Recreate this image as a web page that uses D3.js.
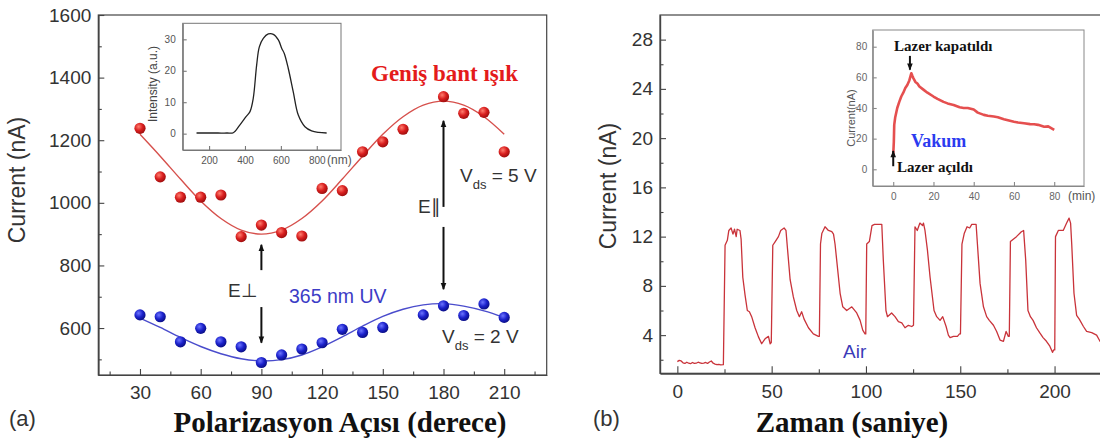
<!DOCTYPE html>
<html><head><meta charset="utf-8">
<script src="https://cdn.jsdelivr.net/npm/d3@7"></script>
<style>
html,body{margin:0;padding:0;background:#fff;}
svg{display:block;}
</style></head><body>
<svg id="chart" width="1100" height="443"></svg>
<script>
// ---------- Panel (a): photocurrent vs. polarization angle ----------
const fitAngles = [30,40,50,60,70,80,90,100,110,120,130,140,150,160,170,180,190,200,210];
const redAngles = [30,40,50,60,70,80,90,100,110,120,130,140,150,160,180,190,200,210];
const redCurrent = [1238,1083,1018,1018,1025,892,929,905,894,1046,1039,1163,1195,1235,1339,1286,1289,1163];
const blueAngles = [30,40,50,60,70,80,90,100,110,120,130,140,150,170,180,190,200,210];
const blueCurrent = [642,636,556,599,556,540,490,514,533,553,596,586,602,642,671,640,677,634];
const redFit = [1219,1149,1076,1006,950,913,900,913,950,1006,1076,1149,1219,1275,1312,1325,1312,1275,1219];
const blueFit = [632,602,570,541,518,502,495,499,514,540,572,606,637,660,674,678,670,655,634];
const angleTicks = [30,60,90,120,150,180,210];
const angleMinorTicks = [15,45,75,105,135,165,195,225];
const currentTicksA = [600,800,1000,1200,1400,1600];
const currentMinorTicksA = [500,700,900,1100,1300,1500];

// ---------- Inset (a): lamp spectrum ----------
const wavelength = [130,200,250,300,335,372,406,428,446,465,480,502,530,558,586,605,619,641,669,697,734,771,810,855];
const intensity = [0.2,0.2,0.2,0.2,0.3,2.8,5.4,7.0,11.2,21.8,27.6,30.3,31.7,31.6,29.8,27.1,25.5,20.8,13.3,5.9,2.2,0.9,0.4,0.2];
const wavelengthTicks = [200,400,600,800];
const intensityTicks = [0,10,20,30];

// ---------- Panel (b): on/off response in air ----------
const airTrace = [
  [0,1.85],[1,1.95],[2,1.9],[3,1.75],[4,1.7],[5,1.8],[6,1.72],[7,1.68],[8,1.78],[9,1.7],[10,1.72],
  [11,1.8],[12,1.75],[13,1.7],[14,1.72],[15,1.78],[16,1.7],[17,1.82],[18,1.9],[19,1.72],[20,1.65],
  [21,1.6],[22,1.62],[23,1.58],[24.4,1.6],
  [25.3,11.3],[26.5,11.7],[27.3,12.5],[28.5,12.7],[29.5,12.2],[30.3,12.6],[31.2,12.0],[31.7,12.6],[33.2,12.5],[33.8,11.8],
  [34.7,8.7],[35.9,7.25],[37.1,6.0],[38.2,5.9],[39.4,5.5],[41.2,4.6],[43,3.86],[44.7,3.3],[46.5,3.7],[48.3,3.9],[49.2,3.3],[49.8,3.4],
  [50.6,11.3],[51.9,11.6],[53.6,12.0],[54.8,12.5],[56.6,12.7],[57.6,12.5],[58.3,11.2],[59.8,8.5],[61.5,7.1],[63.3,6.0],
  [64.7,5.5],[65.9,5.9],[67.2,5.3],[69.5,4.6],[72.1,4.1],[74.8,3.9],[75.3,3.9],
  [75.9,11.4],[76.6,12.25],[78.3,12.8],[80.1,12.5],[81.9,12.4],[82.8,12.2],[83.6,11.4],[86.3,7.4],[87.7,6.3],[89.8,6.0],
  [92.5,6.3],[95.1,5.8],[96.9,5.2],[98.3,4.4],[99.5,4.1],[99.9,4.1],
  [100.4,11.4],[101.8,11.6],[103.2,12.9],[104.5,13.0],[106.5,13.0],[108.4,13.0],[109.2,10.1],[110.6,6.0],[111.4,5.5],
  [113.6,5.8],[115.4,5.5],[117.2,5.1],[119,5.0],[120.7,4.6],[122.5,4.8],[124.3,4.7],[125.2,4.8],
  [126,12.8],[127.2,12.5],[128.6,13.1],[130,12.9],[130.5,13.1],[131.3,12.5],[132.6,10.9],[134,8.7],[136.1,6.0],[137.5,5.5],
  [139.3,5.2],[140.7,5.5],[142.5,4.7],[143.7,4.0],[144.6,3.8],[146.4,3.9],[148.5,3.9],[149.6,4.1],[150.1,4.1],
  [150.9,11.4],[152.1,12.25],[153.6,12.8],[155,12.7],[156.1,13.0],[158.4,13.0],[159.1,11.4],[160.5,8.2],[162.3,6.3],[164,5.5],
  [165.4,5.2],[167.6,4.8],[169.3,4.3],[171.1,3.6],[172.9,3.5],[174.3,4.3],[175.5,3.9],[176,3.9],
  [176.6,11.6],[179.8,12.0],[182.4,12.4],[183.6,12.5],[184.7,10.1],[185.9,6.0],[187.2,5.5],[188.6,5.2],[190.4,4.6],
  [192.1,4.2],[193.9,3.8],[195.7,3.5],[197.5,3.1],[198.9,2.6],[199.5,2.8],[200.1,2.8],
  [200.5,12.0],[202,12.5],[204.6,12.5],[206.4,13.1],[207.7,13.5],[208.5,13.1],[209.1,11.4],[210.3,7.4],[211.7,5.6],
  [213.1,5.3],[215.3,4.7],[217,4.3],[219.7,4.2],[222.3,4.0],[224.1,3.5],[226,3.2]
];
const timeTicks = [0,50,100,150,200];
const timeMinorTicks = [25,75,125,175,225];
const currentTicksB = [4,8,12,16,20,24,28];
const currentMinorTicksB = [2,6,10,14,18,22,26];

// ---------- Inset (b): response in vacuum ----------
const vacuumTrace = [
  [0,9.3],[0.3,18],[0.5,29],[1,34],[2,40],[3,44],[4,47.5],[5,50],[6,53],[7,55],[8,58],[9,62.7],[9.5,61],
  [10,59.5],[11,57],[12,56],[13,54],[15,52],[17,50],[20,47.5],[22,46],[25,44],[27,43],[30,42],[33,40.5],
  [35,40],[37,40],[40,39],[42,37],[45,35.5],[47,35],[50,34.4],[52,34],[55,32.7],[57,32],[60,31],[62,30.5],
  [65,30],[68,29.5],[70,29.4],[72,29],[75,27.8],[77,28],[80,25.7]
];
const minuteTicks = [0,20,40,60,80];
const vacuumCurrentTicks = [0,20,40,60,80];

const SANS = "'Liberation Sans', Arial, sans-serif";
const SERIF = "'Liberation Serif', 'Times New Roman', serif";
const plain = d3.format("d");

const svg = d3.select("#chart");
const defs = svg.append("defs");

function ballGradient(id, hi, mid, edge) {
  const g = defs.append("radialGradient").attr("id", id)
    .attr("cx", "38%").attr("cy", "35%").attr("r", "65%");
  g.append("stop").attr("offset", "0%").attr("stop-color", hi);
  g.append("stop").attr("offset", "55%").attr("stop-color", mid);
  g.append("stop").attr("offset", "100%").attr("stop-color", edge);
}
ballGradient("redBall", "#ff7d6e", "#d91f1f", "#a10f0f");
ballGradient("blueBall", "#6c74ff", "#1c22cc", "#0b0f88");

defs.append("marker").attr("id", "arrowHead")
  .attr("viewBox", "0 0 10 10").attr("refX", 9).attr("refY", 5)
  .attr("markerWidth", 8).attr("markerHeight", 7)
  .attr("markerUnits", "userSpaceOnUse").attr("orient", "auto")
  .append("path").attr("d", "M0,1 L10,5 L0,9 Z").attr("fill", "#111");

function styleAxis(g, size, color, lineColor) {
  g.selectAll("path.domain").attr("stroke", lineColor).attr("stroke-width", 1.2);
  g.selectAll(".tick line").attr("stroke", lineColor).attr("stroke-width", 1.1);
  g.selectAll(".tick text").attr("font-family", SANS).attr("font-size", size).attr("fill", color);
}

function addAxis(parent, axis, transform, size, color, lineColor) {
  const g = parent.append("g").attr("transform", transform).call(axis);
  styleAxis(g, size, color, lineColor);
  return g;
}

function arrow(parent, x1, y1, x2, y2) {
  parent.append("line").attr("x1", x1).attr("y1", y1).attr("x2", x2).attr("y2", y2)
    .attr("stroke", "#111").attr("stroke-width", 2).attr("marker-end", "url(#arrowHead)");
}

// ================= Panel (a) =================
const xA = d3.scaleLinear().domain([9.4, 231]).range([98.3, 546.7]);
const yA = d3.scaleLinear().domain([450, 1600]).range([375, 15]);
const pa = svg.append("g");

pa.append("rect").attr("x", xA.range()[0]).attr("y", yA.range()[1])
  .attr("width", xA.range()[1] - xA.range()[0]).attr("height", yA.range()[0] - yA.range()[1])
  .attr("fill", "none").attr("stroke", "#444").attr("stroke-width", 1.2);

addAxis(pa, d3.axisBottom(xA).tickValues(angleTicks).tickFormat(plain).tickSize(-6).tickSizeOuter(0).tickPadding(10.5),
  `translate(0,${yA.range()[0]})`, "19px", "#333", "#444");
addAxis(pa, d3.axisBottom(xA).tickValues(angleMinorTicks).tickSize(-3.5).tickSizeOuter(0).tickFormat(""),
  `translate(0,${yA.range()[0]})`, "19px", "#333", "#444");
addAxis(pa, d3.axisLeft(yA).tickValues(currentTicksA).tickFormat(plain).tickSize(-6).tickSizeOuter(0).tickPadding(7),
  `translate(${xA.range()[0]},0)`, "19px", "#333", "#444");
addAxis(pa, d3.axisLeft(yA).tickValues(currentMinorTicksA).tickSize(-3.5).tickSizeOuter(0).tickFormat(""),
  `translate(${xA.range()[0]},0)`, "19px", "#333", "#444");

const fitLineA = d3.line().x((d, i) => xA(fitAngles[i])).y(d => yA(d)).curve(d3.curveCatmullRom);
pa.append("path").attr("d", fitLineA(redFit)).attr("fill", "none")
  .attr("stroke", "#d6504c").attr("stroke-width", 1.4);
pa.append("path").attr("d", fitLineA(blueFit)).attr("fill", "none")
  .attr("stroke", "#4a4ccc").attr("stroke-width", 1.4);

pa.selectAll("circle.red").data(redCurrent).join("circle").attr("class", "red")
  .attr("cx", (d, i) => xA(redAngles[i])).attr("cy", d => yA(d)).attr("r", 5.6)
  .attr("fill", "url(#redBall)");
pa.selectAll("circle.blue").data(blueCurrent).join("circle").attr("class", "blue")
  .attr("cx", (d, i) => xA(blueAngles[i])).attr("cy", d => yA(d)).attr("r", 5.6)
  .attr("fill", "url(#blueBall)");

// polarization arrows: E⊥ at 90°, E∥ at 180°
arrow(pa, xA(90), yA(785), xA(90), yA(866));
arrow(pa, xA(90), yA(667), xA(90), yA(553));
arrow(pa, xA(180), yA(987), xA(180), yA(1262));
arrow(pa, xA(180), yA(923), xA(180), yA(724));

pa.append("text").attr("x", 228).attr("y", 297).attr("font-family", SANS).attr("font-size", "19px")
  .attr("fill", "#333").text("E⊥");
pa.append("text").attr("x", 418).attr("y", 213).attr("font-family", SANS).attr("font-size", "19px")
  .attr("fill", "#333").text("E∥");
pa.append("text").attr("x", 289).attr("y", 303).attr("font-family", SANS).attr("font-size", "19.5px")
  .attr("fill", "#3c3cc6").text("365 nm UV");
pa.append("text").attr("x", 371).attr("y", 81).attr("font-family", SERIF).attr("font-weight", "bold")
  .attr("font-size", "23px").attr("fill", "#e41b1b").text("Geniş bant ışık");

function vdsLabel(parent, x, y, volts) {
  const t = parent.append("text").attr("x", x).attr("y", y).attr("font-family", SANS)
    .attr("font-size", "19px").attr("fill", "#333");
  t.append("tspan").text("V");
  t.append("tspan").attr("dy", 7).attr("font-size", "13px").text("ds");
  t.append("tspan").attr("dy", -7).text(" = " + volts + " V");
}
vdsLabel(pa, 460, 182, 5);
vdsLabel(pa, 442, 343, 2);

pa.append("text").attr("transform", "translate(25,180) rotate(-90)").attr("text-anchor", "middle")
  .attr("font-family", SANS).attr("font-size", "23px").attr("fill", "#333").text("Current (nA)");
pa.append("text").attr("x", 9).attr("y", 426).attr("font-family", SANS).attr("font-size", "22px")
  .attr("fill", "#333").text("(a)");
pa.append("text").attr("x", 340).attr("y", 432).attr("text-anchor", "middle").attr("font-family", SERIF)
  .attr("font-weight", "bold").attr("font-size", "29px").attr("fill", "#111").text("Polarizasyon Açısı (derece)");

// ---------- inset (a) ----------
const xI = d3.scaleLinear().domain([53, 935]).range([182.7, 341]);
const yI = d3.scaleLinear().domain([-5.2, 35.1]).range([150, 23.3]);
const ia = svg.append("g");
ia.append("rect").attr("x", xI.range()[0]).attr("y", yI.range()[1])
  .attr("width", xI.range()[1] - xI.range()[0]).attr("height", yI.range()[0] - yI.range()[1])
  .attr("fill", "#fff").attr("stroke", "#777").attr("stroke-width", 1);
addAxis(ia, d3.axisBottom(xI).tickValues(wavelengthTicks).tickFormat(plain).tickSize(-4).tickSizeOuter(0).tickPadding(6.9),
  `translate(0,${yI.range()[0]})`, "10px", "#555", "#777");
addAxis(ia, d3.axisLeft(yI).tickValues(intensityTicks).tickFormat(plain).tickSize(-4).tickSizeOuter(0).tickPadding(7),
  `translate(${xI.range()[0]},0)`, "10px", "#555", "#777");
ia.append("path").attr("d", d3.line().x((d, i) => xI(wavelength[i])).y(d => yI(d)).curve(d3.curveCatmullRom)(intensity))
  .attr("fill", "none").attr("stroke", "#222").attr("stroke-width", 1.3);
ia.append("text").attr("x", 327).attr("y", 164).attr("font-family", SANS).attr("font-size", "12px")
  .attr("fill", "#555").text("(nm)");
ia.append("text").attr("transform", "translate(157,84) rotate(-90)").attr("text-anchor", "middle")
  .attr("font-family", SANS).attr("font-size", "12px").attr("fill", "#444").text("Intensity (a.u.)");

// ================= Panel (b) =================
const xB = d3.scaleLinear().domain([-9.2, 240]).range([660, 1130]);
const yB = d3.scaleLinear().domain([0.9, 30]).range([373.3, 15]);
const pb = svg.append("g");
pb.append("rect").attr("x", xB.range()[0]).attr("y", yB.range()[1])
  .attr("width", xB.range()[1] - xB.range()[0]).attr("height", yB.range()[0] - yB.range()[1])
  .attr("fill", "none").attr("stroke", "#444").attr("stroke-width", 1.2);
addAxis(pb, d3.axisBottom(xB).tickValues(timeTicks).tickFormat(plain).tickSize(-7).tickSizeOuter(0).tickPadding(11),
  `translate(0,${yB.range()[0]})`, "19px", "#333", "#444");
addAxis(pb, d3.axisBottom(xB).tickValues(timeMinorTicks).tickSize(-4).tickSizeOuter(0).tickFormat(""),
  `translate(0,${yB.range()[0]})`, "19px", "#333", "#444");
addAxis(pb, d3.axisLeft(yB).tickValues(currentTicksB).tickFormat(plain).tickSize(-6).tickSizeOuter(0).tickPadding(7),
  `translate(${xB.range()[0]},0)`, "19px", "#333", "#444");
addAxis(pb, d3.axisLeft(yB).tickValues(currentMinorTicksB).tickSize(-3.5).tickSizeOuter(0).tickFormat(""),
  `translate(${xB.range()[0]},0)`, "19px", "#333", "#444");

pb.append("path").attr("d", d3.line().x(d => xB(d[0])).y(d => yB(d[1]))(airTrace))
  .attr("fill", "none").attr("stroke", "#c9333a").attr("stroke-width", 1.3).attr("stroke-linejoin", "round");

pb.append("text").attr("x", 843).attr("y", 358).attr("font-family", SANS).attr("font-size", "19px")
  .attr("fill", "#3b3bb8").text("Air");
pb.append("text").attr("transform", "translate(616,186) rotate(-90)").attr("text-anchor", "middle")
  .attr("font-family", SANS).attr("font-size", "23px").attr("fill", "#333").text("Current (nA)");
pb.append("text").attr("x", 593).attr("y", 426).attr("font-family", SANS).attr("font-size", "22px")
  .attr("fill", "#333").text("(b)");
pb.append("text").attr("x", 852).attr("y", 432).attr("text-anchor", "middle").attr("font-family", SERIF)
  .attr("font-weight", "bold").attr("font-size", "29px").attr("fill", "#111").text("Zaman (saniye)");

// ---------- inset (b) ----------
const xV = d3.scaleLinear().domain([-10.2, 94.8]).range([872.7, 1084]);
const yV = d3.scaleLinear().domain([-10.9, 90.9]).range([186, 30]);
const ib = svg.append("g");
ib.append("rect").attr("x", xV.range()[0]).attr("y", yV.range()[1])
  .attr("width", xV.range()[1] - xV.range()[0]).attr("height", yV.range()[0] - yV.range()[1])
  .attr("fill", "#fff").attr("stroke", "#888").attr("stroke-width", 1);
addAxis(ib, d3.axisBottom(xV).tickValues(minuteTicks).tickFormat(plain).tickSize(-4).tickSizeOuter(0).tickPadding(6.9),
  `translate(0,${yV.range()[0]})`, "10px", "#666", "#888");
addAxis(ib, d3.axisLeft(yV).tickValues(vacuumCurrentTicks).tickFormat(plain).tickSize(-4).tickSizeOuter(0).tickPadding(5.5),
  `translate(${xV.range()[0]},0)`, "10px", "#666", "#888");
ib.append("path").attr("d", d3.line().x(d => xV(d[0])).y(d => yV(d[1]))(vacuumTrace))
  .attr("fill", "none").attr("stroke", "#e23c3c").attr("stroke-width", 2.6)
  .attr("stroke-linejoin", "round").attr("stroke-opacity", 0.9);

ib.append("text").attr("x", 1068).attr("y", 200).attr("font-family", SANS).attr("font-size", "12px")
  .attr("fill", "#555").text("(min)");
ib.append("text").attr("transform", "translate(855,118) rotate(-90)").attr("text-anchor", "middle")
  .attr("font-family", SANS).attr("font-size", "11px").attr("fill", "#555").text("Current(nA)");
ib.append("text").attr("x", 894).attr("y", 51).attr("font-family", SERIF).attr("font-weight", "bold")
  .attr("font-size", "15px").attr("fill", "#111").text("Lazer kapatıldı");
ib.append("text").attr("x", 911).attr("y", 147).attr("font-family", SERIF).attr("font-weight", "bold")
  .attr("font-size", "18px").attr("fill", "#2b3bf0").text("Vakum");
ib.append("text").attr("x", 897).attr("y", 172).attr("font-family", SERIF).attr("font-weight", "bold")
  .attr("font-size", "15px").attr("fill", "#111").text("Lazer açıldı");
arrow(ib, xV(8.3), yV(74), xV(8.3), yV(65));
arrow(ib, xV(0), yV(2), xV(0), yV(12));
</script>
</body></html>
